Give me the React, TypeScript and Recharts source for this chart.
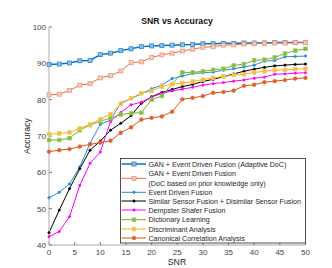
import React from 'react';
import { LineChart, Line, XAxis, YAxis } from 'recharts';

const snr = [0, 2, 4, 6, 8, 10, 12, 14, 16, 18, 20, 22, 24, 26, 28, 30, 32, 34, 36, 38, 40, 42, 44, 46, 48, 50];
const ganAdaptive = [89.7, 89.8, 90.1, 90.7, 90.8, 92.4, 92.8, 93.5, 94.0, 94.6, 94.8, 94.9, 95.0, 95.1, 95.2, 95.4, 95.4, 95.5, 95.5, 95.6, 95.6, 95.6, 95.7, 95.7, 95.7, 95.7];
const ganPrior = [81.3, 81.5, 82.5, 84.0, 84.4, 86.0, 86.6, 87.9, 90.2, 90.4, 91.6, 92.3, 92.8, 93.4, 93.9, 94.4, 94.6, 95.0, 95.1, 95.3, 95.4, 95.5, 95.6, 95.6, 95.7, 95.7];
const eventDriven = [53.0, 54.5, 56.8, 61.5, 68.0, 73.2, 74.4, 79.1, 80.3, 81.6, 83.0, 84.0, 85.8, 86.5, 87.2, 87.4, 87.6, 88.1, 88.5, 89.0, 89.5, 90.6, 90.8, 91.8, 91.9, 92.0];
const similarDissimilar = [43.4, 49.6, 55.5, 61.0, 66.1, 68.6, 71.6, 73.5, 75.6, 79.0, 80.8, 82.0, 82.8, 83.6, 84.2, 85.0, 85.6, 86.3, 87.1, 87.8, 88.4, 88.9, 89.3, 89.5, 89.7, 89.8];
const dempster = [42.3, 43.7, 47.8, 56.4, 62.5, 65.6, 74.0, 76.5, 78.6, 79.3, 80.7, 81.7, 82.4, 82.9, 83.4, 84.0, 84.4, 84.7, 85.1, 85.4, 85.9, 86.2, 87.0, 87.1, 87.3, 87.4];
const dictionary = [68.9, 68.9, 69.4, 71.6, 73.0, 74.1, 74.9, 75.9, 76.3, 76.4, 80.0, 81.0, 84.3, 87.5, 87.5, 87.8, 88.2, 88.5, 89.4, 89.8, 90.8, 91.0, 91.6, 92.7, 93.5, 94.0];
const discriminant = [70.5, 70.7, 71.0, 72.1, 73.2, 74.6, 76.0, 78.8, 80.4, 81.8, 82.4, 83.6, 84.3, 84.6, 85.0, 85.5, 86.0, 86.4, 86.8, 87.0, 87.5, 87.8, 88.1, 88.2, 88.4, 88.5];
const cca = [65.7, 66.1, 66.4, 67.1, 67.7, 68.2, 68.7, 70.9, 72.4, 74.5, 75.0, 75.4, 76.7, 80.1, 80.5, 81.0, 81.9, 82.1, 82.5, 83.8, 84.1, 84.8, 85.1, 85.4, 85.8, 86.0];

const xTicks = [0, 5, 10, 15, 20, 25, 30, 35, 40, 45, 50];
const yTicks = [40, 50, 60, 70, 80, 90, 100];

const legendLabels = [
  ['GAN + Event Driven Fusion (Adaptive DoC)'],
  ['GAN + Event Driven Fusion', '(DoC based on prior knowledge only)'],
  ['Event Driven Fusion'],
  ['Similar Sensor Fusion + Disimilar Sensor Fusion'],
  ['Dempster Shafer Fusion'],
  ['Dictionary Learning'],
  ['Discriminant Analysis'],
  ['Canonical Correlation Analysis'],
];

type Marker = { kind: 'square' | 'dot' | 'circle'; size: number; fill: string; stroke: string };
type Series = { key: string; values: number[]; color: string; width: number; marker: Marker };

const series: Series[] = [
  { key: 'ganAdaptive', values: ganAdaptive, color: '#0a72bd', width: 1.5, marker: { kind: 'square', size: 4, fill: '#8ec2ea', stroke: '#2a86cc' } },
  { key: 'ganPrior', values: ganPrior, color: '#e2703f', width: 1, marker: { kind: 'square', size: 4, fill: '#f8cbb6', stroke: '#ee9a78' } },
  { key: 'eventDriven', values: eventDriven, color: '#2b8cd4', width: 1, marker: { kind: 'dot', size: 1.3, fill: '#2b8cd4', stroke: '#2b8cd4' } },
  { key: 'similarDissimilar', values: similarDissimilar, color: '#000000', width: 1, marker: { kind: 'dot', size: 1.2, fill: '#000', stroke: '#000' } },
  { key: 'dempster', values: dempster, color: '#ff00ff', width: 1, marker: { kind: 'dot', size: 1.2, fill: '#ff00ff', stroke: '#ff00ff' } },
  { key: 'dictionary', values: dictionary, color: '#77ac30', width: 1, marker: { kind: 'square', size: 3.6, fill: '#83b842', stroke: '#9ccc5c' } },
  { key: 'discriminant', values: discriminant, color: '#edb120', width: 1, marker: { kind: 'square', size: 3.6, fill: '#f2bb3c', stroke: '#f6c860' } },
  { key: 'cca', values: cca, color: '#d95319', width: 1, marker: { kind: 'circle', size: 1.9, fill: '#e0622a', stroke: '#e0622a' } },
];

const data = snr.map((s, i) => {
  const row: Record<string, number> = { snr: s };
  series.forEach((sr) => {
    row[sr.key] = sr.values[i];
  });
  return row;
});

const FONT = 'Liberation Sans, Arial, Helvetica, sans-serif';

function drawMarker(m: Marker, cx: number, cy: number, key?: string) {
  if (m.kind === 'square') {
    return <rect key={key} x={cx - m.size / 2} y={cy - m.size / 2} width={m.size} height={m.size} fill={m.fill} stroke={m.stroke} strokeWidth={0.8} />;
  }
  return <circle key={key} cx={cx} cy={cy} r={m.size} fill={m.fill} stroke={m.stroke} strokeWidth={0.5} />;
}

const legendRows = [164, 178.3, 192.3, 201, 210, 219.7, 229, 238];

export default function App() {
  return (
    <div style={{ position: 'absolute', left: 0, top: 0, width: 332, height: 268, background: '#fff' }}>
      <LineChart width={332} height={268} data={data} margin={{ top: 27, right: 26.5, bottom: 0, left: 19 }}>
        <XAxis
          dataKey="snr"
          type="number"
          domain={[0, 50]}
          ticks={xTicks}
          height={23}
          tickSize={-3}
          tickMargin={7}
          axisLine={{ stroke: '#c4c4c4', strokeWidth: 1.4 }}
          tickLine={{ stroke: '#777' }}
          tick={{ fill: '#444', fontSize: 8, fontFamily: FONT }}
        />
        <XAxis
          xAxisId="top"
          orientation="top"
          dataKey="snr"
          type="number"
          domain={[0, 50]}
          ticks={xTicks}
          height={0}
          tickSize={-3}
          tick={false}
          axisLine={{ stroke: '#b8b8b8', strokeWidth: 1 }}
          tickLine={{ stroke: '#888' }}
        />
        <YAxis
          type="number"
          domain={[40, 100]}
          ticks={yTicks}
          width={30}
          tickSize={-3}
          tickMargin={6}
          axisLine={{ stroke: '#c4c4c4', strokeWidth: 1.4 }}
          tickLine={{ stroke: '#777' }}
          tick={{ fill: '#444', fontSize: 8, fontFamily: FONT }}
        />
        <YAxis
          yAxisId="right"
          orientation="right"
          type="number"
          domain={[40, 100]}
          ticks={yTicks}
          width={0}
          tickSize={-3}
          tick={false}
          axisLine={{ stroke: '#b8b8b8', strokeWidth: 1 }}
          tickLine={{ stroke: '#888' }}
        />
        {series.map((s) => (
          <Line
            key={s.key}
            dataKey={s.key}
            type="linear"
            stroke={s.color}
            strokeWidth={s.width}
            isAnimationActive={false}
            dot={(p: any) => drawMarker(s.marker, p.cx, p.cy, `${s.key}-${p.index}`)}
            activeDot={false}
          />
        ))}
      </LineChart>
      <svg width={332} height={268} style={{ position: 'absolute', left: 0, top: 0, pointerEvents: 'none' }}>
        <text x={177} y={23.6} textAnchor="middle" fontFamily={FONT} fontSize={8.7} fontWeight="bold" fill="#111">
          SNR vs Accuracy
        </text>
        <text x={177} y={265} textAnchor="middle" fontFamily={FONT} fontSize={8.7} fill="#262626">
          SNR
        </text>
        <text x={30} y={136} textAnchor="middle" fontFamily={FONT} fontSize={8.7} fill="#262626" transform="rotate(-90 30 136)">
          Accuracy
        </text>
        <rect x={120.5} y={158.5} width={185} height={84.5} fill="#fff" stroke="#262626" strokeWidth={0.8} />
        {series.map((s, i) => {
          const cy = legendRows[i];
          const lines = legendLabels[i];
          return (
            <g key={s.key}>
              <line x1={121.5} x2={146} y1={cy} y2={cy} stroke={s.color} strokeWidth={s.width} />
              {drawMarker(s.marker, 134, cy)}
              {lines.length === 1 ? (
                <text x={148.5} y={cy + 2.5} fontFamily={FONT} fontSize={7.1} fill="#262626">
                  {lines[0]}
                </text>
              ) : (
                <>
                  <text x={148.5} y={cy - 5 + 2.5} fontFamily={FONT} fontSize={7.1} fill="#262626">
                    {lines[0]}
                  </text>
                  <text x={148.5} y={cy + 5 + 2.5} fontFamily={FONT} fontSize={7.1} fill="#262626">
                    {lines[1]}
                  </text>
                </>
              )}
            </g>
          );
        })}
      </svg>
    </div>
  );
}
